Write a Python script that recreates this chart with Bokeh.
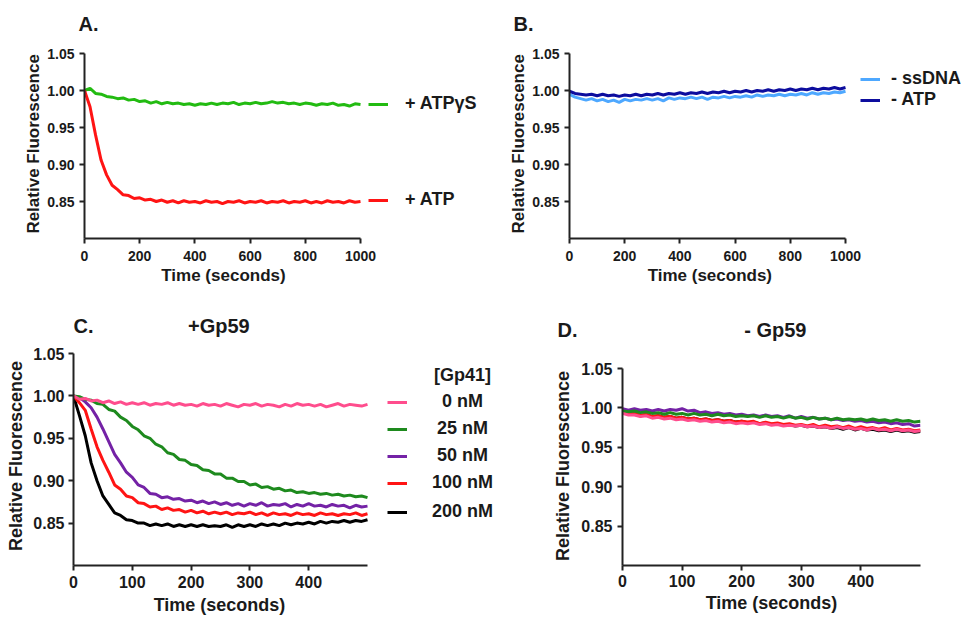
from bokeh.plotting import figure
from bokeh.models import Range1d, FixedTicker, Legend, LegendItem, NumeralTickFormatter
from bokeh.layouts import row, column
from bokeh.embed import file_html
from bokeh.resources import INLINE

FONT = "Liberation Sans"
AX = "#222222"
TXT = "#1a1a1a"
NB = "\u00a0"

# ---------------- data ----------------
T_LONG = [0, 20, 40, 60, 80, 100, 120, 140, 160, 180,
          200, 220, 240, 260, 280, 300, 320, 340, 360, 380,
          400, 420, 440, 460, 480, 500, 520, 540, 560, 580,
          600, 620, 640, 660, 680, 700, 720, 740, 760, 780,
          800, 820, 840, 860, 880, 900, 920, 940, 960, 980,
          1000]
T_SHORT = [0, 10, 20, 30, 40, 50, 60, 70, 80, 90,
           100, 110, 120, 130, 140, 150, 160, 170, 180, 190,
           200, 210, 220, 230, 240, 250, 260, 270, 280, 290,
           300, 310, 320, 330, 340, 350, 360, 370, 380, 390,
           400, 410, 420, 430, 440, 450, 460, 470, 480, 490,
           500]

Y_TICKS = [0.85, 0.90, 0.95, 1.00, 1.05]
X_TICKS_LONG = [0, 200, 400, 600, 800, 1000]
X_TICKS_SHORT = [0, 100, 200, 300, 400]

# Panel A
A_ATPgS = [1.000, 1.003, 0.996, 0.995, 0.992, 0.991, 0.989, 0.990, 0.987, 0.988,
           0.985, 0.986, 0.983, 0.985, 0.982, 0.984, 0.982, 0.983, 0.981, 0.982,
           0.980, 0.982, 0.981, 0.983, 0.981, 0.983, 0.982, 0.984, 0.981, 0.983,
           0.982, 0.984, 0.982, 0.983, 0.985, 0.983, 0.984, 0.982, 0.983, 0.981,
           0.983, 0.982, 0.980, 0.982, 0.981, 0.983, 0.980, 0.981, 0.979, 0.982,
           0.981]
A_ATP = [1.000, 0.978, 0.940, 0.906, 0.886, 0.872, 0.866, 0.859, 0.858, 0.854,
         0.855, 0.852, 0.853, 0.850, 0.852, 0.849, 0.851, 0.848, 0.851, 0.849,
         0.850, 0.848, 0.851, 0.849, 0.850, 0.847, 0.850, 0.849, 0.851, 0.848,
         0.850, 0.849, 0.851, 0.848, 0.850, 0.849, 0.851, 0.848, 0.850, 0.849,
         0.851, 0.848, 0.850, 0.848, 0.851, 0.849, 0.850, 0.848, 0.851, 0.849,
         0.850]

# Panel B
B_noDNA = [0.995, 0.991, 0.989, 0.987, 0.989, 0.986, 0.988, 0.985, 0.987, 0.984,
           0.988, 0.986, 0.988, 0.987, 0.989, 0.987, 0.989, 0.986, 0.990, 0.988,
           0.990, 0.989, 0.991, 0.989, 0.991, 0.988, 0.991, 0.990, 0.992, 0.990,
           0.992, 0.991, 0.993, 0.991, 0.994, 0.992, 0.994, 0.993, 0.995, 0.993,
           0.995, 0.994, 0.996, 0.994, 0.997, 0.995, 0.997, 0.996, 0.998, 0.997,
           0.999]
B_noATP = [0.999, 0.996, 0.995, 0.994, 0.995, 0.993, 0.995, 0.993, 0.994, 0.992,
           0.994, 0.993, 0.995, 0.993, 0.995, 0.994, 0.996, 0.994, 0.996, 0.995,
           0.997, 0.995, 0.997, 0.996, 0.998, 0.996, 0.998, 0.997, 0.999, 0.997,
           0.999, 0.998, 1.000, 0.998, 1.000, 0.999, 1.001, 0.999, 1.001, 1.000,
           1.002, 1.000, 1.002, 1.001, 1.003, 1.001, 1.003, 1.002, 1.004, 1.002,
           1.004]

# Panel C (+Gp59), Gp41 concentrations
C_TITLE = "[Gp41]"
C_LABELS = ["0 nM", "25 nM", "50 nM", "100 nM", "200 nM"]
C_0 = [1.000, 0.996, 0.997, 0.994, 0.995, 0.992, 0.994, 0.991, 0.993, 0.990,
       0.992, 0.990, 0.992, 0.989, 0.991, 0.990, 0.992, 0.989, 0.991, 0.989,
       0.990, 0.988, 0.991, 0.989, 0.990, 0.988, 0.991, 0.989, 0.987, 0.990,
       0.989, 0.991, 0.988, 0.990, 0.989, 0.987, 0.990, 0.988, 0.991, 0.989,
       0.990, 0.988, 0.990, 0.987, 0.989, 0.991, 0.988, 0.990, 0.989, 0.988,
       0.990]
C_25 = [1.000, 0.999, 0.996, 0.995, 0.991, 0.990, 0.984, 0.982, 0.975, 0.971,
        0.964, 0.960, 0.953, 0.950, 0.943, 0.940, 0.933, 0.931, 0.925, 0.924,
        0.919, 0.918, 0.913, 0.912, 0.908, 0.908, 0.903, 0.903, 0.899, 0.899,
        0.895, 0.896, 0.892, 0.893, 0.890, 0.891, 0.888, 0.889, 0.886, 0.887,
        0.885, 0.886, 0.884, 0.885, 0.883, 0.884, 0.882, 0.883, 0.881, 0.882,
        0.880]
C_50 = [1.000, 0.998, 0.993, 0.986, 0.975, 0.961, 0.946, 0.931, 0.921, 0.910,
        0.904, 0.895, 0.892, 0.885, 0.884, 0.880, 0.881, 0.878, 0.879, 0.876,
        0.877, 0.874, 0.876, 0.873, 0.875, 0.872, 0.874, 0.871, 0.873, 0.870,
        0.873, 0.871, 0.874, 0.870, 0.872, 0.871, 0.873, 0.869, 0.872, 0.870,
        0.873, 0.870, 0.871, 0.869, 0.872, 0.870, 0.871, 0.868, 0.871, 0.869,
        0.870]
C_100 = [1.000, 0.992, 0.983, 0.961, 0.940, 0.924, 0.910, 0.895, 0.890, 0.882,
         0.880, 0.874, 0.873, 0.869, 0.870, 0.866, 0.868, 0.865, 0.866, 0.863,
         0.865, 0.862, 0.864, 0.861, 0.863, 0.861, 0.863, 0.860, 0.862, 0.861,
         0.863, 0.860, 0.862, 0.859, 0.862, 0.860, 0.861, 0.859, 0.862, 0.860,
         0.861, 0.859, 0.862, 0.860, 0.861, 0.859, 0.861, 0.860, 0.862, 0.859,
         0.861]
C_200 = [1.000, 0.977, 0.953, 0.921, 0.900, 0.882, 0.872, 0.862, 0.859, 0.854,
         0.853, 0.850, 0.850, 0.847, 0.849, 0.847, 0.849, 0.846, 0.848, 0.846,
         0.848, 0.846, 0.848, 0.846, 0.847, 0.846, 0.848, 0.845, 0.848, 0.846,
         0.848, 0.846, 0.849, 0.847, 0.849, 0.847, 0.850, 0.848, 0.850, 0.849,
         0.851, 0.849, 0.852, 0.850, 0.852, 0.851, 0.853, 0.851, 0.853, 0.852,
         0.854]

# Panel D (-Gp59)
D_0 = [0.993, 0.991, 0.991, 0.989, 0.990, 0.987, 0.988, 0.986, 0.987, 0.985,
       0.986, 0.984, 0.985, 0.983, 0.984, 0.982, 0.983, 0.981, 0.982, 0.980,
       0.981, 0.980, 0.981, 0.979, 0.980, 0.978, 0.979, 0.977, 0.978, 0.977,
       0.978, 0.976, 0.977, 0.975, 0.976, 0.974, 0.976, 0.974, 0.975, 0.973,
       0.974, 0.972, 0.974, 0.972, 0.973, 0.971, 0.973, 0.971, 0.972, 0.970,
       0.971]
D_25 = [0.996, 0.995, 0.996, 0.994, 0.995, 0.993, 0.994, 0.992, 0.994, 0.992,
        0.993, 0.991, 0.993, 0.991, 0.992, 0.990, 0.992, 0.990, 0.991, 0.989,
        0.990, 0.989, 0.990, 0.988, 0.990, 0.988, 0.989, 0.987, 0.989, 0.987,
        0.988, 0.986, 0.988, 0.986, 0.987, 0.985, 0.987, 0.985, 0.986, 0.985,
        0.986, 0.984, 0.986, 0.984, 0.985, 0.983, 0.985, 0.983, 0.984, 0.982,
        0.983]
D_50 = [0.999, 0.997, 0.999, 0.997, 0.998, 0.996, 0.998, 0.996, 0.998, 0.997,
        0.999, 0.996, 0.997, 0.994, 0.995, 0.993, 0.994, 0.992, 0.993, 0.991,
        0.992, 0.990, 0.991, 0.989, 0.991, 0.989, 0.990, 0.988, 0.990, 0.987,
        0.989, 0.987, 0.988, 0.986, 0.987, 0.985, 0.986, 0.984, 0.985, 0.983,
        0.984, 0.982, 0.983, 0.981, 0.982, 0.980, 0.981, 0.979, 0.980, 0.977,
        0.978]
D_100 = [0.995, 0.993, 0.993, 0.991, 0.992, 0.989, 0.990, 0.988, 0.989, 0.987,
         0.988, 0.986, 0.987, 0.985, 0.986, 0.984, 0.985, 0.983, 0.984, 0.982,
         0.983, 0.982, 0.983, 0.980, 0.982, 0.980, 0.981, 0.979, 0.980, 0.978,
         0.979, 0.977, 0.979, 0.976, 0.978, 0.976, 0.977, 0.975, 0.977, 0.974,
         0.976, 0.974, 0.975, 0.973, 0.975, 0.972, 0.974, 0.972, 0.973, 0.971,
         0.972]
D_200 = [0.994, 0.992, 0.993, 0.990, 0.991, 0.989, 0.990, 0.988, 0.989, 0.987,
         0.988, 0.986, 0.987, 0.985, 0.986, 0.984, 0.985, 0.983, 0.984, 0.982,
         0.983, 0.981, 0.982, 0.980, 0.981, 0.979, 0.980, 0.978, 0.979, 0.977,
         0.978, 0.976, 0.977, 0.975, 0.976, 0.974, 0.975, 0.973, 0.975, 0.972,
         0.974, 0.972, 0.973, 0.971, 0.972, 0.970, 0.972, 0.970, 0.971, 0.969,
         0.970]

X_TITLE = "Time (seconds)"
Y_TITLE = "Relative Fluorescence"

# colours
GREEN_A = "#22bb11"
RED = "#ff1414"
LIGHT_BLUE = "#4ea8ff"
DARK_BLUE = "#0d0d9e"
PINK = "#ff4d8d"
GREEN_C = "#1e8a1e"
PURPLE = "#7422a6"
BLACK = "#000000"

LW = 3


def make_fig(width, height, left, right, top, bottom, x_end, x_bound, y_end, xticks,
             tick_px, title_px, y_lab_so, y_title_so, x_lab_so, x_title_so,
             x_pad=0, y_pad=0):
    p = figure(width=width, height=height,
               x_range=Range1d(0, x_end), y_range=Range1d(0.80, y_end),
               output_backend="svg", toolbar_location=None,
               min_border_left=left, min_border_right=right,
               min_border_top=top, min_border_bottom=bottom)
    p.xgrid.visible = False
    p.ygrid.visible = False
    p.outline_line_color = None
    p.background_fill_color = "white"
    p.border_fill_color = "white"
    p.xaxis.ticker = FixedTicker(ticks=xticks)
    p.yaxis.ticker = FixedTicker(ticks=Y_TICKS)
    p.yaxis.formatter = NumeralTickFormatter(format="0.00")
    p.xaxis.bounds = (0, x_bound)
    p.yaxis.bounds = (0.80, 1.05)
    # trailing no-break spaces keep the titles centred on the drawn axis span
    p.xaxis.axis_label = X_TITLE + NB * x_pad
    p.yaxis.axis_label = Y_TITLE + NB * y_pad
    for ax in (p.xaxis[0], p.yaxis[0]):
        ax.axis_line_width = 2
        ax.axis_line_color = AX
        ax.major_tick_line_width = 2
        ax.major_tick_line_color = AX
        ax.major_tick_out = 5
        ax.major_tick_in = 0
        ax.minor_tick_line_color = None
        ax.major_label_text_font = FONT
        ax.major_label_text_font_style = "bold"
        ax.major_label_text_font_size = f"{tick_px}px"
        ax.major_label_text_color = TXT
        ax.axis_label_text_font = FONT
        ax.axis_label_text_font_style = "bold"
        ax.axis_label_text_font_size = f"{title_px}px"
        ax.axis_label_text_color = TXT
    p.yaxis.major_label_standoff = y_lab_so
    p.yaxis.axis_label_standoff = y_title_so
    p.xaxis.major_label_standoff = x_lab_so
    p.xaxis.axis_label_standoff = x_title_so
    return p


def set_title(p, text, offset, standoff, size=20):
    p.title.text = text
    p.title.align = "left"
    p.title.offset = offset
    p.title.standoff = standoff
    p.title.vertical_align = "bottom"
    p.title.text_font = FONT
    p.title.text_font_style = "bold"
    p.title.text_font_size = f"{size}px"
    p.title.text_color = TXT


def make_legend(items, loc, spacing, standoff, size):
    return Legend(items=items, location=loc, orientation="vertical",
                  spacing=spacing, glyph_width=20, glyph_height=20, label_height=20,
                  label_standoff=standoff, padding=0, margin=0,
                  border_line_color=None, background_fill_alpha=0,
                  label_text_font=FONT, label_text_font_style="bold",
                  label_text_font_size=f"{size}px", label_text_color=TXT)


# ---------------- Panel A ----------------
# frame: x 84..480, y 44..238 ; data 1.05 at y=53
pA = make_fig(480, 300, 84, 0, 44, 62, 1000 * 396 / 276, 1000, 1.05 + 9 * 0.25 / 185,
              X_TICKS_LONG, 14, 17, 5, 1, 7, 2, x_pad=25, y_pad=1)
rA1 = pA.line(T_LONG, A_ATPgS, line_color=GREEN_A, line_width=LW)
rA2 = pA.line(T_LONG, A_ATP, line_color=RED, line_width=LW)
pA.add_layout(make_legend([LegendItem(label="+ ATPγS", renderers=[rA1]),
                           LegendItem(label="+ ATP", renderers=[rA2])],
                          (284, 28), 75, 17, 18))
set_title(pA, "A.", -6, 20)

# ---------------- Panel B ----------------
pB = make_fig(483, 300, 89, 0, 44, 62, 1000 * 394 / 276, 1000, 1.05 + 9 * 0.25 / 185,
              X_TICKS_LONG, 14, 17, 5, 1, 7, 2, x_pad=24, y_pad=1)
rB1 = pB.line(T_LONG, B_noDNA, line_color=LIGHT_BLUE, line_width=LW)
rB2 = pB.line(T_LONG, B_noATP, line_color=DARK_BLUE, line_width=LW)
pB.add_layout(make_legend([LegendItem(label="- ssDNA", renderers=[rB1]),
                           LegendItem(label="- ATP", renderers=[rB2])],
                          (291, 128), 0, 11, 18))
set_title(pB, "B.", -56, 20)

# ---------------- Panel C ----------------
# frame: x 73..545, y 346..565 ; data 1.05 at y=353
pC = make_fig(545, 317, 73, 0, 46, 52, 500 * 472 / 294, 500, 1.05 + 7 * 0.25 / 212,
              X_TICKS_SHORT, 16, 18, 4, 4, 5, 4, x_pad=36, y_pad=0)
rC200 = pC.line(T_SHORT, C_200, line_color=BLACK, line_width=LW)
rC100 = pC.line(T_SHORT, C_100, line_color=RED, line_width=LW)
rC50 = pC.line(T_SHORT, C_50, line_color=PURPLE, line_width=LW)
rC25 = pC.line(T_SHORT, C_25, line_color=GREEN_C, line_width=LW)
rC0 = pC.line(T_SHORT, C_0, line_color=PINK, line_width=LW)
rC_head = pC.line([], [], line_alpha=0)
c_entries = [(C_TITLE, rC_head)] + list(zip(C_LABELS, [rC0, rC25, rC50, rC100, rC200]))
c_offsets = [179, 153, 126, 99, 72, 43]      # legend rows (px above frame bottom)
c_standoffs = [27, 35, 30, 30, 25, 25]       # centre the labels on one column
for (lab, r), vy, so in zip(c_entries, c_offsets, c_standoffs):
    pC.add_layout(make_legend([LegendItem(label=lab, renderers=[r])], (314, vy), 0, so, 18))
set_title(pC, "C." + NB * 17 + "+Gp59", 0, 20)

# ---------------- Panel D ----------------
# frame: x 622..920, y 346..565 ; data 1.05 at y=368
pD = make_fig(418, 317, 77, 43, 46, 52, 500, 500, 1.05 + 22 * 0.25 / 197,
              X_TICKS_SHORT, 16, 18, 5, 5, 4, 3, x_pad=0, y_pad=4)
pD.line(T_SHORT, D_200, line_color=BLACK, line_width=LW)
pD.line(T_SHORT, D_100, line_color=RED, line_width=LW)
pD.line(T_SHORT, D_50, line_color=PURPLE, line_width=LW)
pD.line(T_SHORT, D_25, line_color=GREEN_C, line_width=LW)
pD.line(T_SHORT, D_0, line_color=PINK, line_width=LW)
set_title(pD, "D." + NB * 30 + "- Gp59", -65, 12)

layout = column(row(pA, pB, spacing=0), row(pC, pD, spacing=0), spacing=0)

open("out.html", "w").write(file_html(layout, INLINE))
